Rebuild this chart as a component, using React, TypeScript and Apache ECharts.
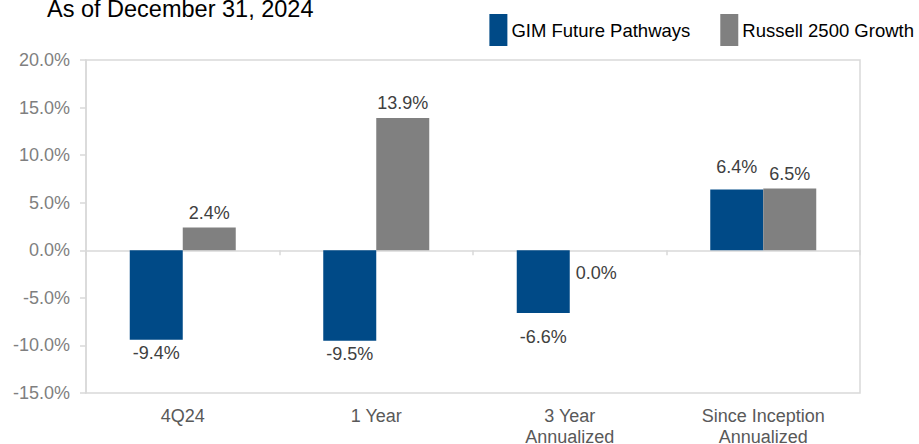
import React, { useEffect, useRef } from "react";
import * as echarts from "echarts";

const categories = ["4Q24", "1 Year", "3 Year\nAnnualized", "Since Inception\nAnnualized"];
const gimValues = [-9.4, -9.5, -6.6, 6.4];
const russellValues = [2.4, 13.9, 0.0, 6.5];
const seriesNames = ["GIM Future Pathways", "Russell 2500 Growth"];
const yTicks = { min: -15, max: 20, interval: 5 };

// label placement tweaks (pixels, style only)
const gimLabelDistance = [4, 4, 15, 13];
const russellLabelDistance = [5, 6, 14, 5];

const FONT = "'Liberation Sans', Arial, sans-serif";

export default function App() {
  const ref = useRef<HTMLDivElement>(null);
  useEffect(() => {
    if (!ref.current) return;
    const chart = echarts.init(ref.current, null, { renderer: "svg" });
    const labelFor = (v: number, d: number) => ({
      show: true,
      position: v <= 0 ? "bottom" : "top",
      distance: d,
      formatter: (p: any) => Number(p.value).toFixed(1) + "%",
      color: "#404040",
      fontSize: 18,
      fontFamily: FONT,
    });
    chart.setOption({
      animation: false,
      textStyle: { fontFamily: FONT },
      title: {
        text: "As of December 31, 2024",
        left: 42,
        top: -8,
        textStyle: { fontSize: 23.5, fontWeight: "normal", color: "#000", fontFamily: FONT },
      },
      legend: {
        right: 0,
        top: 9,
        itemWidth: 18,
        itemHeight: 32,
        itemGap: 30,
        icon: "rect",
        textStyle: { fontSize: 18.5, color: "#000", fontFamily: FONT, padding: [0, 0, 0, -1] },
        data: seriesNames,
      },
      grid: {
        left: 86,
        right: 59,
        top: 60,
        bottom: 51,
        show: true,
        borderColor: "#d9d9d9",
        borderWidth: 1.5,
        outerBoundsMode: "none",
        containLabel: false,
      },
      xAxis: [
        {
          type: "category",
          data: categories,
          position: "bottom",
          axisLine: { show: false, onZero: false },
          axisTick: { show: false },
          axisLabel: { color: "#595959", fontSize: 18, margin: 12, lineHeight: 21, fontFamily: FONT },
        },
        {
          type: "category",
          data: categories,
          position: "bottom",
          axisLine: { show: true, onZero: true, lineStyle: { color: "#d9d9d9", width: 1.5 } },
          axisTick: { show: true, length: 5, lineStyle: { color: "#d9d9d9", width: 1.5 } },
          axisLabel: { show: false },
        },
      ],
      yAxis: {
        type: "value",
        min: yTicks.min,
        max: yTicks.max,
        interval: yTicks.interval,
        splitLine: { show: false },
        axisLine: { show: true, lineStyle: { color: "#d9d9d9", width: 1.5 } },
        axisTick: { show: true, length: 6, lineStyle: { color: "#d9d9d9", width: 1.5 } },
        axisLabel: {
          color: "#7f7f7f",
          fontSize: 18,
          margin: 16,
          fontFamily: FONT,
          formatter: (v: number) => v.toFixed(1) + "%",
        },
      },
      series: [
        {
          name: seriesNames[0],
          type: "bar",
          xAxisIndex: 0,
          barWidth: 53,
          barGap: "0%",
          itemStyle: { color: "#004a87" },
          data: gimValues.map((v, i) => ({ value: v, label: labelFor(v, gimLabelDistance[i]) })),
        },
        {
          name: seriesNames[1],
          type: "bar",
          xAxisIndex: 0,
          barWidth: 53,
          barGap: "0%",
          itemStyle: { color: "#808080" },
          data: russellValues.map((v, i) => ({ value: v, label: labelFor(v, russellLabelDistance[i]) })),
        },
      ],
    });
    return () => chart.dispose();
  }, []);
  return <div ref={ref} style={{ width: 919, height: 444, position: "absolute", left: 0, top: 0 }} />;
}
